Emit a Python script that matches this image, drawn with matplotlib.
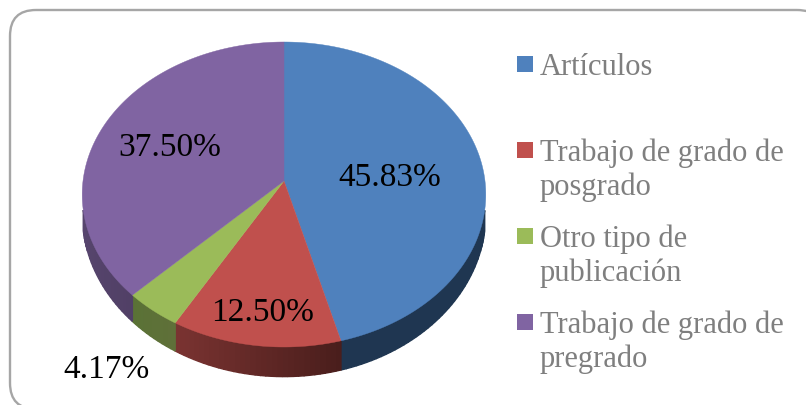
import numpy as np
import matplotlib
matplotlib.use("Agg")
import matplotlib.pyplot as plt
from matplotlib.patches import FancyBboxPatch

categories = ["Artículos", "Trabajo de grado de\nposgrado", "Otro tipo de\npublicación", "Trabajo de grado de\npregrado"]
values = [45.83, 12.50, 4.17, 37.50]
labels = ["45.83%", "12.50%", "4.17%", "37.50%"]
colors = ["#4f81bd", "#c0504d", "#9bbb59", "#8064a2"]
side_right = ["#1f3651", "#4a1e1c", "#5f7039", "#514066"]
side_left = ["#1f3651", "#7a3331", "#5a7236", "#6a5688"]

# pie geometry, pixels
CX, CY = 284, 182
RX, RY = 201, 151.3
PERSP = 0.0885
DEPTH = 27

label_pos = [(390, 178), (263, 313), (107, 370), (170, 148)]
legend_box_y = [65, 151, 237, 323]


def project(t, depth=0):
    # t is clockwise from the top, perspective makes the near side bigger
    u, v = np.sin(t), np.cos(t)
    w = 1 + PERSP * v
    return CX + RX * u / w, CY - RY * v / w + depth * (0.7 - 0.3 * v) / w


plt.rcParams["font.family"] = ["Liberation Serif", "DejaVu Serif"]

fig = plt.figure(figsize=(8.06, 4.06), dpi=100)
ax = fig.add_axes([0, 0, 1, 1])
ax.set_xlim(0, 806)
ax.set_ylim(406, 0)
ax.axis("off")

ax.add_patch(FancyBboxPatch((10, 11), 813, 399, boxstyle="round,pad=0,rounding_size=26",
                            fc="white", ec="#a6a6a6", lw=1.7))

edges = np.concatenate([[0], np.cumsum(values)]) / 100 * 2 * np.pi

# side wall, small strips so the shade can change along the rim
for i in range(4):
    ts = np.linspace(edges[i], edges[i + 1], int((edges[i + 1] - edges[i]) * 40) + 2)
    c_r = np.array(matplotlib.colors.to_rgb(side_right[i]))
    c_l = np.array(matplotlib.colors.to_rgb(side_left[i]))
    for j, (a, b) in enumerate(zip(ts[:-1], ts[1:])):
        if np.cos(a) > -0.2 and np.cos(b) > -0.2:
            continue
        mix = j / max(len(ts) - 2, 1)
        col = c_r + (c_l - c_r) * mix
        x1, y1 = project(a)
        x2, y2 = project(b)
        x3, y3 = project(b, DEPTH)
        x4, y4 = project(a, DEPTH)
        ax.fill([x1, x2, x3, x4], [y1, y2, y3, y4], fc=col, ec=col, lw=1)

# top face
for i in range(4):
    ts = np.linspace(edges[i], edges[i + 1], 200)
    xs, ys = project(ts)
    ax.fill(np.r_[CX, xs], np.r_[CY, ys], color=colors[i], lw=0.3)

for txt, (x, y) in zip(labels, label_pos):
    ax.text(x, y, txt, fontsize=24, color="black", ha="center", va="center")

for i, name in enumerate(categories):
    ax.fill([517, 533, 533, 517], np.array([-8, -8, 8, 8]) + legend_box_y[i], color=colors[i], lw=0)
    ax.text(540, legend_box_y[i] - 12, name, fontsize=22, color="#7f7f7f", ha="left", va="top",
            linespacing=1.17)

fig.savefig("out.png", dpi=100)
